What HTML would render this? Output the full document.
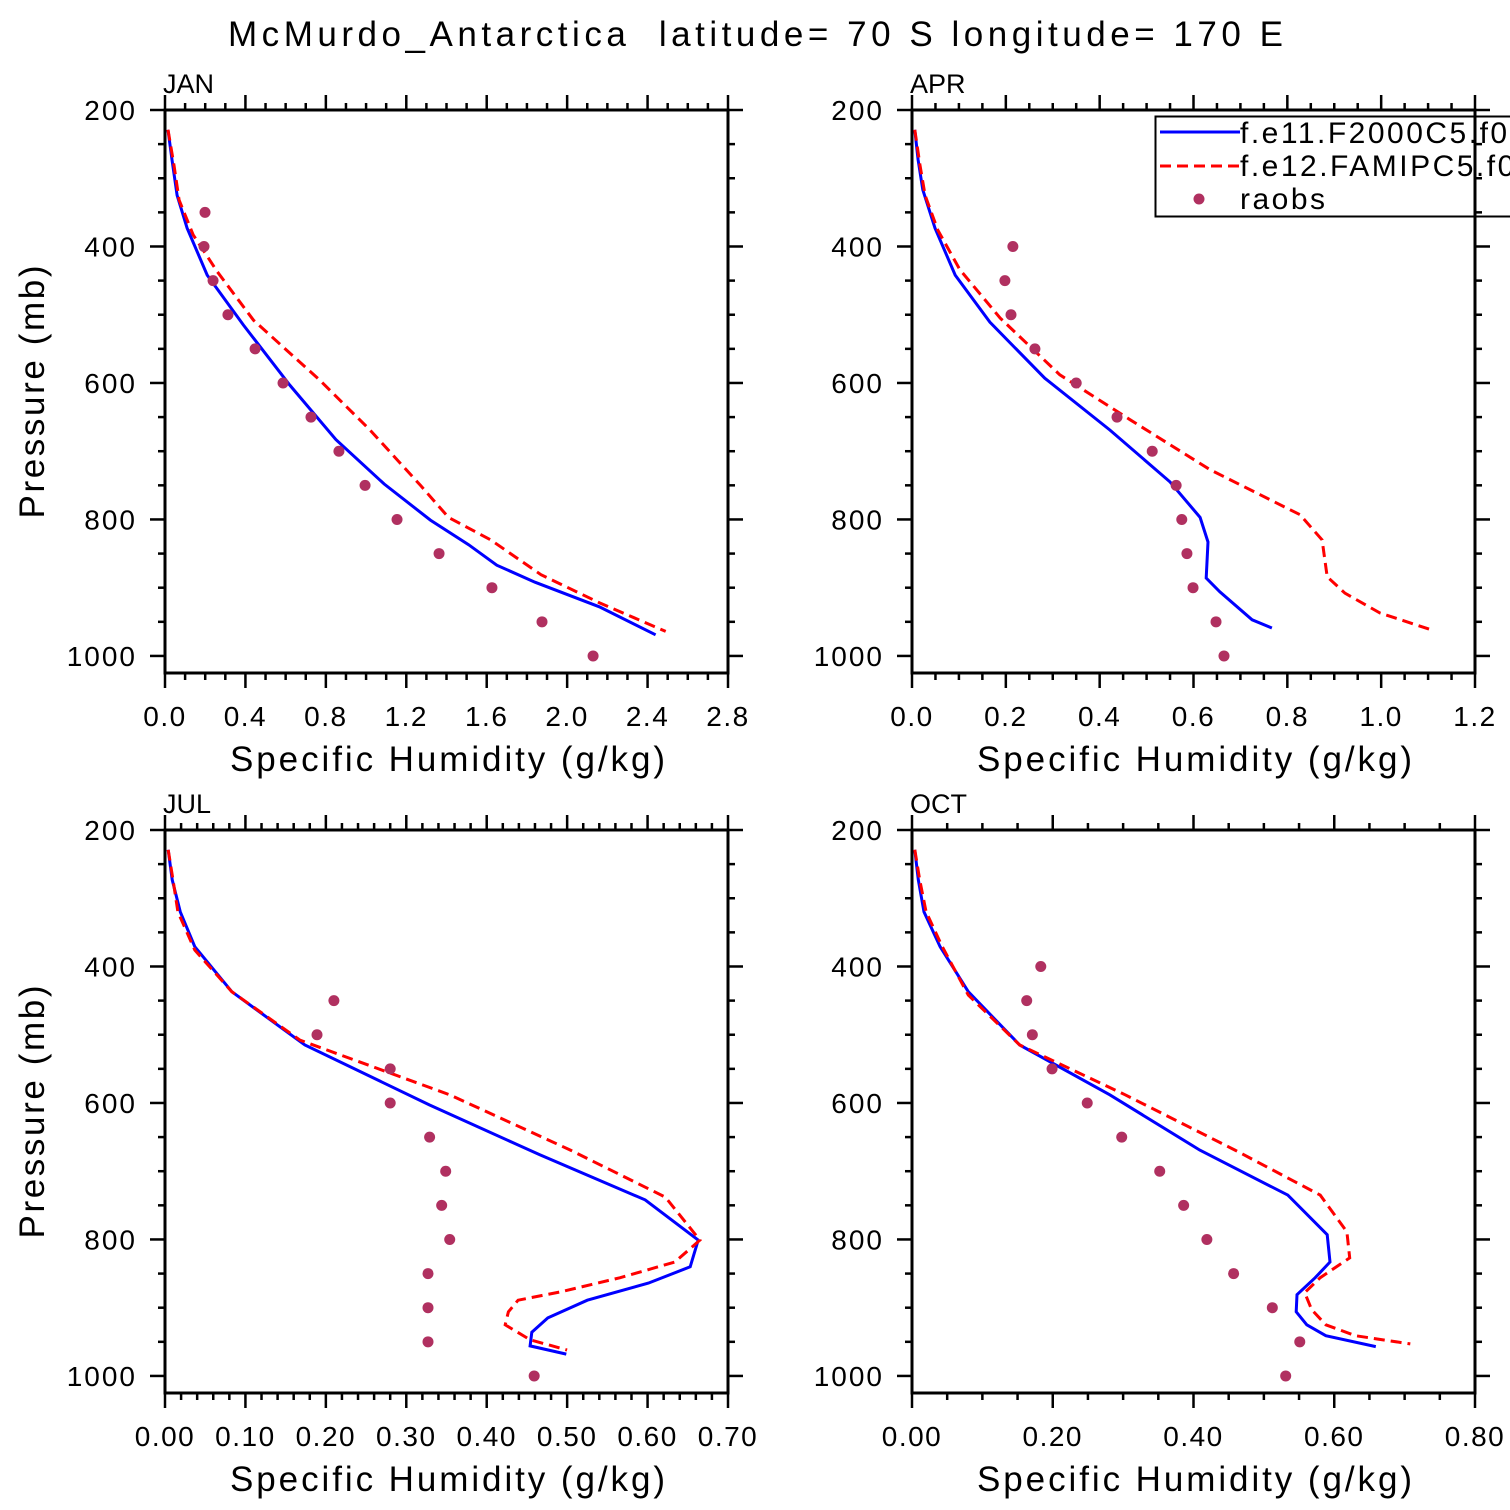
<!DOCTYPE html>
<html><head><meta charset="utf-8"><style>
html,body{margin:0;padding:0;background:#fff;}
svg{display:block;}
text{font-family:"Liberation Sans",sans-serif;fill:#000;white-space:pre;}
</style></head><body>
<svg id="fig" width="1510" height="1510" viewBox="0 0 1510 1510">
<text x="228" y="46" font-size="35" textLength="1055" lengthAdjust="spacing">McMurdo_Antarctica  latitude= 70 S longitude= 170 E</text>
</svg>
<script>
// ---------- data ----------
const panelNames = ["JAN","APR","JUL","OCT"];
const janBlueQ = [0.015,0.035,0.06,0.11,0.21,0.39,0.62,0.85,1.09,1.32,1.51,1.65,1.84,2.16,2.44];
const janBlueP = [229,273,325,373,442,515,603,683,748,801,837,867,892,928,969];
const janRedQ = [0.015,0.045,0.07,0.14,0.26,0.44,0.77,1.02,1.27,1.41,1.62,1.87,2.16,2.49];
const janRedP = [229,281,332,383,437,508,596,669,750,797,830,881,922,964];
const janObsQ = [0.199,0.194,0.239,0.313,0.448,0.587,0.726,0.865,0.995,1.154,1.363,1.626,1.875,2.129];
const janObsP = [350,400,450,500,550,600,650,700,750,800,850,900,950,1000];

const aprBlueQ = [0.006,0.013,0.023,0.049,0.092,0.166,0.283,0.422,0.55,0.614,0.631,0.627,0.656,0.725,0.767];
const aprBlueP = [229,273,317,373,442,511,593,669,745,797,833,886,906,947,959];
const aprRedQ = [0.006,0.017,0.028,0.055,0.102,0.188,0.315,0.465,0.635,0.827,0.874,0.885,0.923,0.997,1.108];
const aprRedP = [229,281,325,376,434,505,588,654,727,793,830,884,908,937,962];
const aprObsQ = [0.215,0.198,0.211,0.262,0.350,0.437,0.512,0.563,0.575,0.586,0.599,0.648,0.665];
const aprObsP = [400,450,500,550,600,650,700,750,800,850,900,950,1000];

const julBlueQ = [0.004,0.009,0.019,0.037,0.083,0.174,0.329,0.466,0.597,0.663,0.653,0.601,0.525,0.476,0.456,0.454,0.499];
const julBlueP = [229,273,320,371,437,515,603,676,742,801,840,864,889,915,936,956,968];
const julRedQ = [0.004,0.01,0.016,0.037,0.083,0.168,0.354,0.504,0.622,0.665,0.634,0.566,0.491,0.439,0.427,0.423,0.454,0.5];
const julRedP = [229,273,320,376,437,508,588,669,738,801,833,856,877,889,906,925,947,962];
const julObsQ = [0.210,0.189,0.280,0.280,0.329,0.349,0.344,0.354,0.327,0.327,0.327,0.459];
const julObsP = [450,500,550,600,650,700,750,800,850,900,950,1000];

const octBlueQ = [0.004,0.009,0.017,0.040,0.080,0.153,0.281,0.409,0.534,0.590,0.594,0.573,0.547,0.546,0.561,0.588,0.659];
const octBlueP = [229,273,320,371,437,515,588,669,735,793,833,856,881,906,925,941,957];
const octRedQ = [0.004,0.011,0.020,0.043,0.080,0.153,0.303,0.459,0.580,0.618,0.622,0.580,0.558,0.568,0.588,0.630,0.708];
const octRedP = [229,273,320,371,442,515,588,669,735,789,827,856,878,903,925,941,953];
const octObsQ = [0.183,0.163,0.171,0.199,0.249,0.298,0.352,0.386,0.419,0.457,0.512,0.551,0.531];
const octObsP = [400,450,500,550,600,650,700,750,800,850,900,950,1000];

const pTicks = [200,400,600,800,1000];
const legendLabels = ["f.e11.F2000C5.f09_f09.control","f.e12.FAMIPC5.f09_f09.control","raobs"];

// ---------- drawing ----------
const NS = "http://www.w3.org/2000/svg";
const svg = document.getElementById("fig");
function mk(tag, attrs, parent){
  const e = document.createElementNS(NS, tag);
  for (const k in attrs) e.setAttribute(k, attrs[k]);
  (parent||svg).appendChild(e);
  return e;
}
const W = 563, H = 563, PMIN = 200, PMAX = 1025;
const panels = [
  {name:"JAN", x0:165, y0:110, xmax:2.8, major:0.4, minor:0.1, dec:1, b:[janBlueQ,janBlueP], r:[janRedQ,janRedP], o:[janObsQ,janObsP], ylab:true},
  {name:"APR", x0:912, y0:110, xmax:1.2, major:0.2, minor:0.05, dec:1, b:[aprBlueQ,aprBlueP], r:[aprRedQ,aprRedP], o:[aprObsQ,aprObsP], ylab:false},
  {name:"JUL", x0:165, y0:830, xmax:0.7, major:0.1, minor:0.02, dec:2, b:[julBlueQ,julBlueP], r:[julRedQ,julRedP], o:[julObsQ,julObsP], ylab:true},
  {name:"OCT", x0:912, y0:830, xmax:0.8, major:0.2, minor:0.05, dec:2, b:[octBlueQ,octBlueP], r:[octRedQ,octRedP], o:[octObsQ,octObsP], ylab:false}
];

panels.forEach(pn => {
  const g = mk("g", {});
  
  
  const xs = v => pn.x0 + v / pn.xmax * W;
  const ys = p => pn.y0 + (p - PMIN) / (PMAX - PMIN) * H;
  const bot = pn.y0 + H, right = pn.x0 + W;

  const tg = mk("g", {stroke:"#000","stroke-width":2.5}, g);
  
  
  const nMin = Math.round(pn.xmax / pn.minor);
  const ratio = Math.round(pn.major / pn.minor);
  for (let i = 0; i <= nMin; i++) {
    const x = xs(i * pn.minor);
    const L = (i % ratio === 0) ? 15 : 7;
    mk("line", {x1:x, y1:bot, x2:x, y2:bot + L}, tg);
    mk("line", {x1:x, y1:pn.y0, x2:x, y2:pn.y0 - L}, tg);
  }
  for (let p = 200; p <= 1000; p += 50) {
    const y = ys(p);
    const L = (p % 200 === 0) ? 15 : 7;
    mk("line", {x1:pn.x0, y1:y, x2:pn.x0 - L, y2:y}, tg);
    mk("line", {x1:right, y1:y, x2:right + L, y2:y}, tg);
  }
  const frame = mk("rect", {x:pn.x0, y:pn.y0, width:W, height:H, fill:"none", stroke:"#000","stroke-width":3}, g);
  
  

  const nMaj = Math.round(pn.xmax / pn.major);
  for (let i = 0; i <= nMaj; i++) {
    const t = mk("text", {x:xs(i * pn.major), y:bot + 53, "text-anchor":"middle", "font-size":28, "letter-spacing":"1.5"}, g);
    t.textContent = (i * pn.major).toFixed(pn.dec);
    
    
  }
  pTicks.forEach(p => {
    const t = mk("text", {x:pn.x0 - 28, y:ys(p) + 10, "text-anchor":"end", "font-size":28, "letter-spacing":"2"}, g);
    t.textContent = p;
    
    
  });
  const xt = mk("text", {x:pn.x0 + 65, y:bot + 98, "font-size":35, textLength:435, lengthAdjust:"spacing"}, g);
  xt.textContent = "Specific Humidity (g/kg)";
  
  
  const pl = mk("text", {x:pn.x0 - 2, y:pn.y0 - 17, "font-size":27}, g);
  pl.textContent = pn.name;
  
  
  if (pn.ylab) {
    const cy = pn.y0 + 282;
    const yt = mk("text", {x:44, y:cy, "text-anchor":"middle", "font-size":35, textLength:253, lengthAdjust:"spacing", transform:"rotate(-90 44 " + cy + ")"}, g);
    yt.textContent = "Pressure (mb)";
    
    
  }

  const pts = (q, p) => q.map((v, i) => xs(v).toFixed(1) + "," + ys(p[i]).toFixed(1)).join(" ");
  const bl = mk("polyline", {points:pts(pn.b[0], pn.b[1]), fill:"none", stroke:"#0000ff", "stroke-width":3}, g);
  
  
  const rl = mk("polyline", {points:pts(pn.r[0], pn.r[1]), fill:"none", stroke:"#ff0000", "stroke-width":3, "stroke-dasharray":"11,6"}, g);
  
  
  pn.o[0].forEach((v, i) => {
    const c = mk("circle", {cx:xs(v), cy:ys(pn.o[1][i]), r:5.5, fill:"#b03060"}, g);
    
    
  });
});

const lg = mk("g", {});


const lbox = mk("rect", {x:1155.5, y:116.5, width:380, height:100, fill:"none", stroke:"#000", "stroke-width":2}, lg);


const l1 = mk("line", {x1:1160, y1:132, x2:1240, y2:132, stroke:"#0000ff", "stroke-width":3}, lg);


const l2 = mk("line", {x1:1160, y1:166, x2:1240, y2:166, stroke:"#ff0000", "stroke-width":3, "stroke-dasharray":"11,6"}, lg);


const ld = mk("circle", {cx:1199, cy:199, r:5.5, fill:"#b03060"}, lg);


legendLabels.forEach((s, i) => {
  const t = mk("text", {x:1240, y:143 + i * 33, "font-size":30, "letter-spacing":"2.5"}, lg);
  t.textContent = s;
  
  
});
</script>
</body></html>
